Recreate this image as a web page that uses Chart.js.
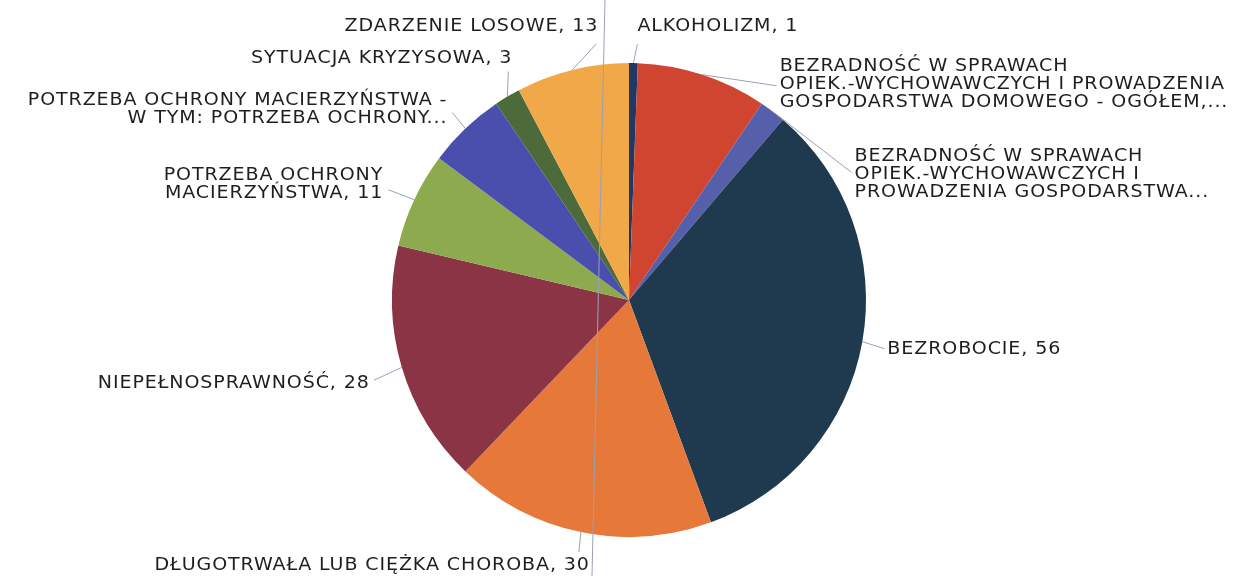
<!DOCTYPE html>
<html>
<head>
<meta charset="utf-8">
<script src="https://cdn.jsdelivr.net/npm/chart.js@4/dist/chart.umd.min.js"></script>
<style>
  html, body { margin: 0; padding: 0; background: #fff; }
  #wrap { width: 1248px; height: 576px; position: relative; }
</style>
</head>
<body>
<div id="wrap"><canvas id="powody"></canvas></div>
<script>
// kategorie (linie etykiet jak na wykresie), wartości, kolory
const categories = [
  ['ALKOHOLIZM'],
  ['BEZRADNOŚĆ W SPRAWACH', 'OPIEK.-WYCHOWAWCZYCH I PROWADZENIA', 'GOSPODARSTWA DOMOWEGO - OGÓŁEM,...'],
  ['BEZRADNOŚĆ W SPRAWACH', 'OPIEK.-WYCHOWAWCZYCH I', 'PROWADZENIA GOSPODARSTWA...'],
  ['BEZROBOCIE'],
  ['DŁUGOTRWAŁA LUB CIĘŻKA CHOROBA'],
  ['NIEPEŁNOSPRAWNOŚĆ'],
  ['POTRZEBA OCHRONY', 'MACIERZYŃSTWA'],
  ['POTRZEBA OCHRONY MACIERZYŃSTWA -', 'W TYM: POTRZEBA OCHRONY...'],
  ['SYTUACJA KRYZYSOWA'],
  ['ZDARZENIE LOSOWE']
];
const values = [1, 15, 3, 56, 30, 28, 11, 9, 3, 13];
const colors = ['#1F3864', '#CF4530', '#5660AA', '#1F3A4F', '#E6783A',
                '#8A3445', '#8DAB4E', '#4A4FAE', '#4C6A3A', '#F0A848'];

// położenie etykiet względem punktu na obwodzie (środek wycinka)
const labelLayout = [
  { dx: 4,   dy: -36, align: 'left',  lx: 4,   ly: -19 },
  { dx: 77,  dy: 10,  align: 'left',  lx: 74,  ly: 11 },
  { dx: 82,  dy: 63,  align: 'left',  lx: 79,  ly: 61 },
  { dx: 25,  dy: 8,   align: 'left',  lx: 22,  ly: 7 },
  { dx: 9,   dy: 34,  align: 'right', lx: -2,  ly: 20 },
  { dx: -32, dy: 16,  align: 'right', lx: -28, ly: 13 },
  { dx: -31, dy: -15, align: 'right', lx: -26, ly: -10 },
  { dx: -18, dy: -19, align: 'right', lx: -13, ly: -16 },
  { dx: 5,   dy: -38, align: 'right', lx: 1,   ly: -25 },
  { dx: 26,  dy: -43, align: 'right', lx: 24,  ly: -26 }
];

function labelLines(i) {
  const lines = categories[i].slice();
  const last = lines[lines.length - 1];
  if (!last.endsWith('...')) lines[lines.length - 1] = last + ', ' + values[i];
  return lines;
}

const outerLabels = {
  id: 'outerLabels',
  afterDatasetsDraw(chart, args, opts) {
    const c = chart.ctx;
    const arcs = chart.getDatasetMeta(0).data;
    c.save();
    // cienka pionowa linia widoczna na oryginale
    c.strokeStyle = opts.lineColor;
    c.lineWidth = 1;
    c.beginPath();
    c.moveTo(605, 0);
    c.lineTo(592, 576);
    c.stroke();

    c.font = opts.font;
    c.letterSpacing = opts.letterSpacing;
    c.fillStyle = opts.color;
    c.textBaseline = 'middle';
    arcs.forEach((arc, i) => {
      const p = arc.getProps(['x', 'y', 'startAngle', 'endAngle', 'outerRadius'], true);
      const mid = (p.startAngle + p.endAngle) / 2;
      const ex = p.x + Math.cos(mid) * p.outerRadius;
      const ey = p.y + Math.sin(mid) * p.outerRadius;
      const L = labelLayout[i];
      c.beginPath();
      c.moveTo(ex, ey);
      c.lineTo(ex + L.lx, ey + L.ly);
      c.stroke();
      const lines = labelLines(i);
      const top = ey + L.dy - (lines.length - 1) * opts.lineHeight / 2;
      c.textAlign = L.align;
      lines.forEach((t, k) => {
        // szeroki krój jak w oryginale: lekkie rozciągnięcie w poziomie
        c.save();
        c.translate(ex + L.dx, top + k * opts.lineHeight);
        c.scale(opts.stretch, 1);
        c.fillText(t, 0, 0);
        c.restore();
      });
    });
    c.restore();
  }
};

const ctx = document.getElementById('powody').getContext('2d');
const chart = new Chart(ctx, {
  type: 'pie',
  plugins: [outerLabels],
  data: {
    labels: categories,
    datasets: [{
      data: values,
      backgroundColor: colors,
      borderWidth: 0,
      hoverOffset: 0
    }]
  },
  options: {
    responsive: true,
    maintainAspectRatio: false,
    animation: false,
    layout: { padding: { top: 63, bottom: 39, left: 392, right: 382 } },
    plugins: {
      legend: { display: false },
      tooltip: { enabled: false },
      outerLabels: {
        font: '17px "DejaVu Sans"',
        letterSpacing: '0.8px',
        stretch: 1.12,
        color: '#1e1e1e',
        lineHeight: 18,
        lineColor: '#9aa0b8'
      }
    }
  }
});
</script>
</body>
</html>
